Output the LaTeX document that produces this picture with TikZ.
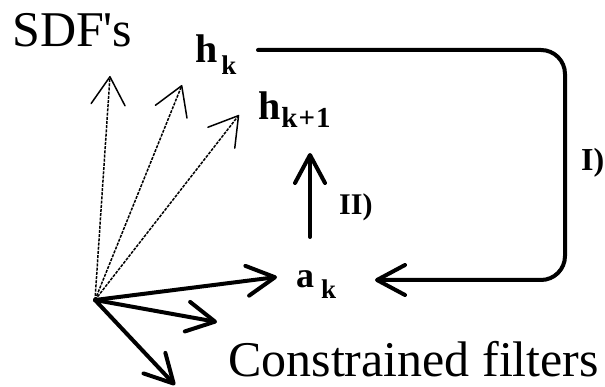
\documentclass[tikz,border=0pt]{standalone}
\usepackage{fontspec}
\setmainfont{Liberation Serif}
\usetikzlibrary{arrows.meta,positioning}

\newcommand{\fsz}[1]{\fontsize{#1}{#1}\selectfont}
\tikzset{
  lbl/.style={anchor=base west,inner sep=0pt},
  vec/.style={line width=4pt,line cap=round,-{Straight Barb[round,length=28pt,width=30pt]}},
  sdfvec/.style={line width=1.5pt,dash pattern=on 3pt off 1.2pt,-{Straight Barb[round,length=28pt,width=34pt]}},
}

\begin{document}
\begin{tikzpicture}[x=1pt,y=-1pt]
  \useasboundingbox (0,0) rectangle (605,387);
  \coordinate (o) at (95,300);
  % labels
  \node[lbl,font=\fsz{50}] (sdf) at (12,47) {SDF\textquotesingle s};
  \node[lbl,font=\bfseries\fsz{40}] (hk) at (195,63) {h\kern4pt\raisebox{-12pt}{\fsz{27}k}};
  \node[lbl,font=\bfseries\fsz{40}] (hkk) at (258,120) {h\kern1pt\raisebox{-8pt}{\fsz{29}k\kern1pt+\kern1pt1}};
  \node[lbl,font=\bfseries\fsz{36}] (ak) at (296,288) {a\kern7pt\raisebox{-10pt}{\fsz{27}k}};
  \node[lbl,font=\fsz{50},text depth=0pt] (cf) at (228,376) {Constrained filters};
  \node[lbl,font=\bfseries\fsz{30}] (lII) at (339,215) {II)};
  \node[lbl,font=\bfseries\fsz{32}] (lI) at (581,171) {I)};
  % SDF's and constrained filters
  \foreach \tip in {(110,76),(182,85),(239,115)}
    \draw[sdfvec] (o) -- \tip;
  \foreach \tip in {(277,277),(217,322),(175,385)}
    \draw[vec] (o) -- \tip;
  % update steps
  \coordinate (loopA) at (258,50);
  \coordinate (loopB) at (375,280);
  \draw[vec,rounded corners=24pt] (loopA) -- (565,50) -- (565,280) -- (loopB);
  \coordinate (upA) at (310,237);
  \coordinate (upB) at (310,153);
  \draw[vec] (upA) -- (upB);
\end{tikzpicture}
\end{document}
